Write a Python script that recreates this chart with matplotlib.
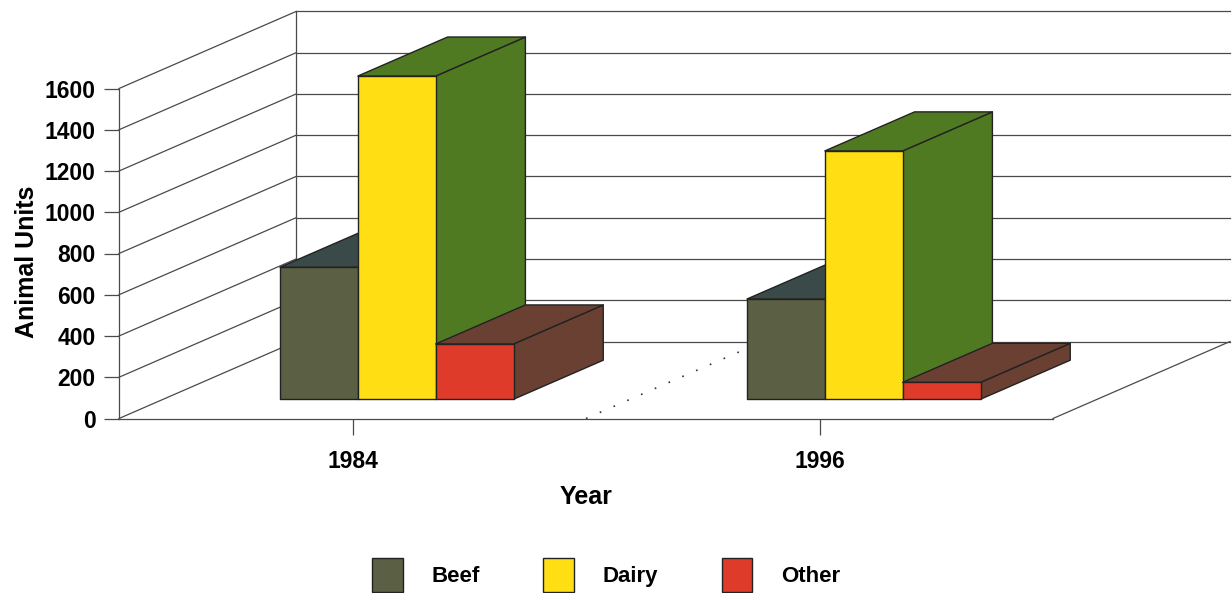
import matplotlib
matplotlib.use("Agg")
import matplotlib.pyplot as plt
from matplotlib.patches import Polygon, Patch

years = ["1984", "1996"]
series_names = ["Beef", "Dairy", "Other"]
beef = [640, 486]
dairy = [1567, 1204]
other = [268, 82]
y_ticks = [0, 200, 400, 600, 800, 1000, 1200, 1400, 1600]

front_colors = ["#5b5f43", "#ffde14", "#df3b2b"]
side_colors = ["#3a4a48", "#4f7a22", "#6a4032"]
LINE = "#222222"
GRID = "#4a4a4a"

W, H = 1232, 593
plt.rcParams["font.family"] = ["Liberation Sans", "DejaVu Sans"]
plt.rcParams["font.weight"] = "bold"
fig = plt.figure(figsize=(W / 100, H / 100), dpi=100, facecolor="white")
ax = fig.add_axes([119 / W, 1 - 418.5 / H, (1053 - 119) / W, 330 / H])
ax.set_xlim(0, 2)
ax.set_ylim(0, 1600)

# oblique projection: depth 0 is the front plane, depth 1 the back wall
DX = 177 / 467
DY = 77 / (330 / 1600)


def proj(x, v, d):
    return (x + d * DX, v + d * DY)


def wall_line(p, q, **kw):
    kw.setdefault("color", GRID)
    kw.setdefault("lw", 0.9)
    ax.plot([p[0], q[0]], [p[1], q[1]], clip_on=False, zorder=1, **kw)


# walls and floor
for v in y_ticks:
    wall_line(proj(0, v, 0), proj(0, v, 1))
    wall_line(proj(0, v, 1), proj(2, v, 1))
wall_line(proj(0, 0, 1), proj(0, 1600, 1))
wall_line(proj(2, 0, 0), proj(2, 0, 1))
wall_line(proj(1, 0, 0), proj(1, 0, 1), ls=(0, (1, 8)), lw=1.2, color="#333333")

# bars
BAR_W = 1 / 6
D0, D1 = 0.25, 0.757


def face(points, color):
    ax.add_patch(Polygon(points, closed=True, facecolor=color, edgecolor=LINE,
                         lw=1.0, clip_on=False, zorder=3, joinstyle="round"))


for c in range(len(years)):
    for s, values in enumerate([beef, dairy, other]):
        x0 = c + 0.5 + (s - 1.5) * BAR_W
        x1 = x0 + BAR_W
        v = values[c]
        face([proj(x1, 0, D0), proj(x1, 0, D1), proj(x1, v, D1), proj(x1, v, D0)], side_colors[s])
        face([proj(x0, v, D0), proj(x1, v, D0), proj(x1, v, D1), proj(x0, v, D1)],
             side_colors[s])
        face([proj(x0, 0, D0), proj(x1, 0, D0), proj(x1, v, D0), proj(x0, v, D0)], front_colors[s])

# axes
for name in ["top", "right"]:
    ax.spines[name].set_visible(False)
for name in ["left", "bottom"]:
    ax.spines[name].set_color(GRID)
    ax.spines[name].set_linewidth(0.9)
ax.patch.set_visible(False)
ax.set_xticks([0.5, 1.5], years)
ax.set_yticks(y_ticks)
ax.tick_params(axis="x", length=11.5, width=0.9, color=GRID, labelsize=16.5, pad=11)
ax.tick_params(axis="y", length=11, width=0.9, color=GRID, labelsize=16.5, pad=6)
ax.set_xlabel("Year", fontsize=18, fontweight="bold", labelpad=9)
ax.set_ylabel("Animal Units", fontsize=18, fontweight="bold", y=0.474, labelpad=4)

handles = [Patch(facecolor=fc, edgecolor=LINE, lw=1.0, label=n)
           for n, fc in zip(series_names, front_colors)]
fig.legend(handles=handles, loc="lower left", bbox_to_anchor=(371 / W, 0), ncol=3,
           frameon=False, fontsize=16, handlelength=1.38, handleheight=1.98,
           handletextpad=1.3, columnspacing=2.85, borderaxespad=0, borderpad=0.05)

fig.savefig("out.png", dpi=100, facecolor="white")
